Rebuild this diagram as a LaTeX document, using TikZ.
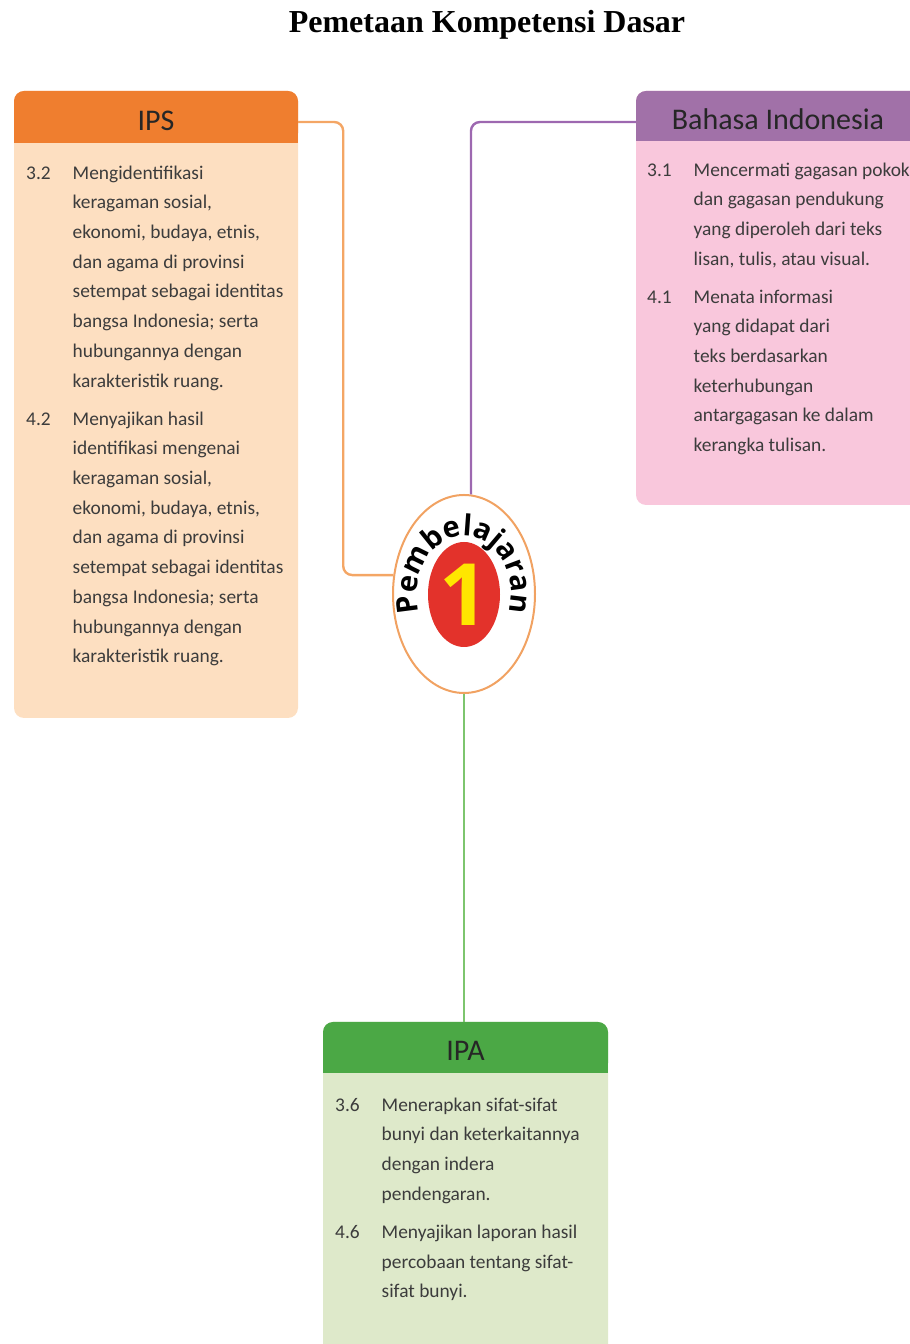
\documentclass[tikz,border=0pt]{standalone}
\usepackage{fontspec}
\setmainfont{Carlito}
\newfontfamily\titlefont{Liberation Serif}
\newfontfamily\hubfont{Open Sans}
\usetikzlibrary{shapes.geometric,decorations.text,calc}
\definecolor{cIps}{HTML}{EF7E2F}
\definecolor{cIpsBody}{HTML}{FDDFC1}
\definecolor{cIpsLine}{HTML}{F4A665}
\definecolor{cBind}{HTML}{A171A8}
\definecolor{cBindBody}{HTML}{F9C7DC}
\definecolor{cBindLine}{HTML}{9D68B0}
\definecolor{cIpa}{HTML}{4BA845}
\definecolor{cIpaBody}{HTML}{DEE9CA}
\definecolor{cIpaLine}{HTML}{7DC56E}
\definecolor{cRing}{HTML}{F1A262}
\definecolor{cRed}{HTML}{E3322B}
\definecolor{cOne}{HTML}{FFE600}
\definecolor{cInk}{HTML}{3C3C3C}
\newcommand{\kd}[1]{\begin{tabular}{@{}p{46.5pt}@{}l@{}}#1\end{tabular}}
\newcommand{\headsq}[2]{\fill[#2] ([yshift=11]#1.south west) rectangle (#1.south east);}

\begin{document}
\begin{tikzpicture}[x=1pt, y=1pt,
  body/.style={rounded corners=10, inner sep=0},
  head/.style={rounded corners=10, inner sep=0, font=\fontsize{30}{30}\selectfont, text=black!85, text height=27, text depth=0},
  kdtext/.style={anchor=north west, inner sep=0, font=\fontsize{19.4}{29.7}\selectfont, text=cInk},
  link/.style={line width=2.4, rounded corners=9}]
\path[use as bounding box, clip] (0,0) rectangle (910,1344);
\node[font=\titlefont\bfseries\fontsize{32}{32}\selectfont, anchor=base] (title) at (487,1311) {Pemetaan Kompetensi Dasar};
% ---- the three subject boxes --------------------------------------------
\node[body, fill=cIpsBody, minimum width=284, minimum height=627] (ips) at (156,939.5) {};
\node[head, fill=cIps, minimum width=284, minimum height=52] (ipsHead) at (156,1227) {IPS};
\headsq{ipsHead}{cIps}
\node[body, fill=cBindBody, minimum width=284, minimum height=414] (bind) at (778,1046) {};
\node[head, fill=cBind, minimum width=284, minimum height=50] (bindHead) at (778,1228) {Bahasa Indonesia};
\headsq{bindHead}{cBind}
\node[body, fill=cIpaBody, minimum width=285, minimum height=338] (ipa) at (465.5,153) {};
\node[head, fill=cIpa, minimum width=285, minimum height=51] (ipaHead) at (465.5,296.5) {IPA};
\headsq{ipaHead}{cIpa}
% ---- competences ---------------------------------------------------------
\node[kdtext] (ipsText) at (26,1185.8) {\kd{3.2 & Mengidentifikasi\\
  & keragaman sosial,\\
  & ekonomi, budaya, etnis,\\
  & dan agama di provinsi\\
  & setempat sebagai identitas\\
  & bangsa Indonesia; serta\\
  & hubungannya dengan\\
  & karakteristik ruang.\\[8.4pt]
  4.2 & Menyajikan hasil\\
  & identifikasi mengenai\\
  & keragaman sosial,\\
  & ekonomi, budaya, etnis,\\
  & dan agama di provinsi\\
  & setempat sebagai identitas\\
  & bangsa Indonesia; serta\\
  & hubungannya dengan\\
  & karakteristik ruang.}};
\node[kdtext] (bindText) at (647,1188.8) {\kd{3.1 & Mencermati gagasan pokok\\
  & dan gagasan pendukung\\
  & yang diperoleh dari teks\\
  & lisan, tulis, atau visual.\\[8.2pt]
  4.1 & Menata informasi\\
  & yang didapat dari\\
  & teks berdasarkan\\
  & keterhubungan\\
  & antargagasan ke dalam\\
  & kerangka tulisan.}};
\node[kdtext] (ipaText) at (335,253.8) {\kd{3.6 & Menerapkan sifat-sifat\\
  & bunyi dan keterkaitannya\\
  & dengan indera\\
  & pendengaran.\\[8.6pt]
  4.6 & Menyajikan laporan hasil\\
  & percobaan tentang sifat-\\
  & sifat bunyi.}};
% ---- hub and links -------------------------------------------------------
\node[ellipse, draw=cRing, line width=2, fill=white, minimum width=142, minimum height=198, inner sep=0] (hub) at (464,750) {};
\draw[link, cIpsLine] ([yshift=-5]ipsHead.east) -- ++(45,0) |- (hub.165);
\draw[link, cBindLine] ([yshift=-6]bindHead.west) -| (hub.86);
\draw[link, cIpaLine] (hub.south) -- (hub.south |- ipaHead.north);
\node[ellipse, fill=cRed, minimum width=72, minimum height=105, inner sep=0] (hubDot) at (464,749.5) {};
\node[font=\hubfont\bfseries\fontsize{86}{86}\selectfont, text=cOne, inner sep=0] (hubNum) at (hubDot.center) {1};
\path[decorate, decoration={text along path, text align=center,
  text={|\hubfont\bfseries\fontsize{29}{29}\selectfont|Pembelajaran}}]
  ($(hub.center)+(205:47 and 58)$) arc[start angle=205, end angle=-25, x radius=47, y radius=58];
\end{tikzpicture}
\end{document}
